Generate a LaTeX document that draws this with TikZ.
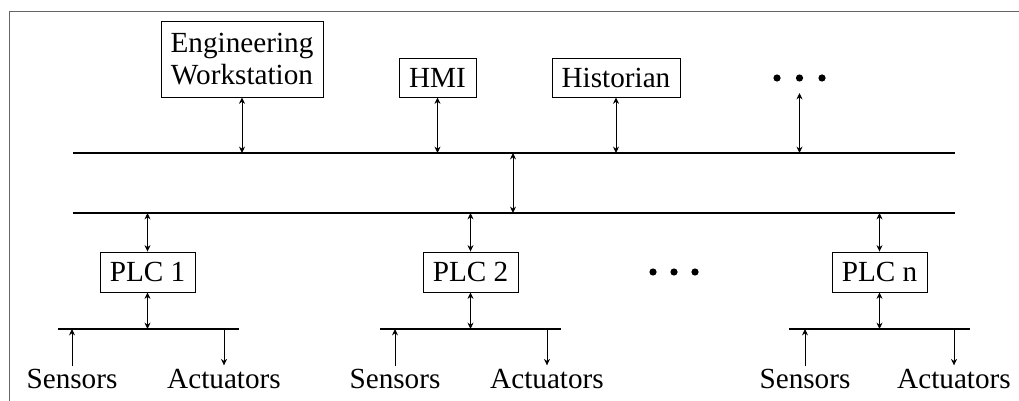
\documentclass[tikz,border=0pt]{standalone}
\usepackage{fontspec}
\setmainfont{Liberation Serif}
\usetikzlibrary{arrows.meta}
\begin{document}
\begin{tikzpicture}[x=0.5pt,y=-0.5pt,
  every node/.style={font=\fontsize{14.6}{16.2}\selectfont},
  unit/.style={draw, line width=0.45pt, inner sep=0pt, align=center},
  lbl/.style={anchor=base, inner sep=0pt},
  bus/.style={line width=0.8pt},
  tip/.tip={Stealth[length=3.2pt,width=3pt]},
  link/.style={line width=0.45pt, tip-tip},
  oneway/.style={line width=0.45pt, -tip},
  frame/.style={line width=0.5pt, black!60},
  dot/.style={fill, circle, inner sep=0pt, minimum size=3.6pt}
]
\useasboundingbox (0,0) rectangle (1019,401);
% partial frame
\draw[frame] (9,401) -- (9,12) -- (1019,12);

% supervisory level
\node[unit, minimum width=81pt, minimum height=38pt] (ew) at (242,59) {Engineering\\Workstation};
\node[unit, minimum width=38.5pt, minimum height=19.5pt] (hmi) at (437.5,77.5) {HMI};
\node[unit, minimum width=64pt, minimum height=19.5pt] (hist) at (616,77.5) {Historian};
\node[dot] (ud1) at (777,78) {};
\node[dot] (ud2) at (799.5,78) {};
\node[dot] (ud3) at (822,78) {};
\coordinate (udtop) at (799.5,93);

% upper bus
\coordinate (b1w) at (73,153);
\coordinate (b1e) at (955,153);
\draw[bus] (b1w) -- (b1e);
\draw[link] (ew.south) -- (ew.south |- b1w);
\draw[link] (hmi.south) -- (hmi.south |- b1w);
\draw[link] (hist.south) -- (hist.south |- b1w);
\draw[link] (udtop) -- (udtop |- b1w);

% lower bus and inter-bus link
\coordinate (b2w) at (73,213);
\coordinate (b2e) at (955,213);
\draw[bus] (b2w) -- (b2e);
\coordinate (m1) at (513,153);
\coordinate (m2) at (513,213);
\draw[link] (m1) -- (m2);

% controllers
\node[unit, minimum width=47.5pt, minimum height=20pt] (p1) at (147.5,272) {PLC 1};
\node[unit, minimum width=47.5pt, minimum height=20pt] (p2) at (470.5,272) {PLC 2};
\node[unit, minimum width=47.5pt, minimum height=20pt] (pn) at (879.5,272) {PLC n};
\node[dot] (ld1) at (653,272) {};
\node[dot] (ld2) at (674,272) {};
\node[dot] (ld3) at (695,272) {};
\draw[link] (p1.north) -- (p1.north |- b2w);
\draw[link] (p2.north) -- (p2.north |- b2w);
\draw[link] (pn.north) -- (pn.north |- b2w);

% field buses
\coordinate (f1w) at (58,329);  \coordinate (f1e) at (239,329);
\coordinate (f2w) at (380,329); \coordinate (f2e) at (561,329);
\coordinate (fnw) at (789,329); \coordinate (fne) at (970,329);
\draw[bus] (f1w) -- (f1e);
\draw[bus] (f2w) -- (f2e);
\draw[bus] (fnw) -- (fne);
\draw[link] (p1.south) -- (p1.south |- f1w);
\draw[link] (p2.south) -- (p2.south |- f2w);
\draw[link] (pn.south) -- (pn.south |- fnw);

% field devices
\node[lbl] (s1) at (72,388) {Sensors};
\node[lbl] (a1) at (224,388) {Actuators};
\node[lbl] (s2) at (395,388) {Sensors};
\node[lbl] (a2) at (547,388) {Actuators};
\node[lbl] (sn) at (805,388) {Sensors};
\node[lbl] (an) at (954,388) {Actuators};
\draw[oneway] ([yshift=1pt]s1.north) -- (s1.north |- f1w);
\draw[oneway] (a1.north |- f1w) -- ([yshift=1.5pt]a1.north);
\draw[oneway] ([yshift=1pt]s2.north) -- (s2.north |- f2w);
\draw[oneway] (a2.north |- f2w) -- ([yshift=1.5pt]a2.north);
\draw[oneway] ([yshift=1pt]sn.north) -- (sn.north |- fnw);
\draw[oneway] (an.north |- fnw) -- ([yshift=1.5pt]an.north);
\end{tikzpicture}
\end{document}
